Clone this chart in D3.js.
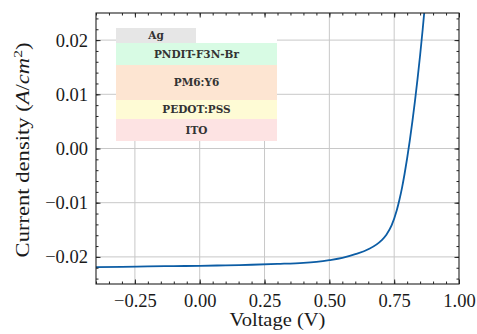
<!DOCTYPE html>
<html>
<head>
<meta charset="utf-8">
<script src="https://cdn.jsdelivr.net/npm/d3@7"></script>
<style>
  body { margin: 0; background: #fff; }
  text { font-family: "Liberation Serif", "DejaVu Serif", serif; fill: #1a1a1a; }
</style>
</head>
<body>
<div id="chart"></div>
<script>
// data
var voltage = [-0.4, -0.3, -0.2, -0.1, 0.0, 0.1, 0.2, 0.3, 0.4, 0.45, 0.5, 0.55, 0.6, 0.65, 0.7,
    0.72, 0.74, 0.76, 0.77, 0.78, 0.79, 0.8, 0.81, 0.82, 0.83, 0.84, 0.85, 0.86, 0.87, 0.88];
var current = [-0.0219, -0.02185, -0.02175, -0.0217, -0.02165, -0.02155, -0.02145, -0.0213, -0.0211, -0.0209,
    -0.0206, -0.0202, -0.0195, -0.0186, -0.0170, -0.0159, -0.0142, -0.0114, -0.0095, -0.0073, -0.0047,
    -0.0018, 0.0014, 0.0049, 0.0087, 0.0128, 0.0172, 0.0220, 0.0272, 0.033];

var xTicks = [-0.25, 0, 0.25, 0.5, 0.75, 1.0];
var yTicks = [-0.02, -0.01, 0, 0.01, 0.02];

// device stack in the inset
var layerNames = ["Ag", "PNDIT-F3N-Br", "PM6:Y6", "PEDOT:PSS", "ITO"];
var layerColors = ["#e6e6e6", "#d8fbe4", "#fde5d2", "#fefbd5", "#fde3e3"];

var svgWidth = 477;
var svgHeight = 334;
var margin = { top: 13, right: 18, bottom: 50, left: 96 };
var width = svgWidth - margin.left - margin.right;
var height = svgHeight - margin.top - margin.bottom;

var svg = d3.select("#chart")
    .append("svg")
    .attr("width", svgWidth)
    .attr("height", svgHeight);

svg.append("rect").attr("width", svgWidth).attr("height", svgHeight).attr("fill", "#fff");

var chartGroup = svg.append("g")
    .attr("transform", `translate(${margin.left}, ${margin.top})`);

var xScale = d3.scaleLinear().domain([-0.4, 1.0]).range([0, width]);
var yScale = d3.scaleLinear().domain([-0.025, 0.025]).range([height, 0]);

chartGroup.append("clipPath").attr("id", "clip")
    .append("rect").attr("width", width).attr("height", height);

// grid
chartGroup.append("g")
    .selectAll("line.gx")
    .data(xTicks.filter(d => d < 1))
    .enter().append("line")
    .attr("x1", d => xScale(d)).attr("x2", d => xScale(d))
    .attr("y1", 0).attr("y2", height)
    .attr("stroke", "#c8c8c8").attr("stroke-width", 1);

chartGroup.append("g")
    .selectAll("line.gy")
    .data(yTicks)
    .enter().append("line")
    .attr("x1", 0).attr("x2", width)
    .attr("y1", d => yScale(d)).attr("y2", d => yScale(d))
    .attr("stroke", "#c8c8c8").attr("stroke-width", 1);

// inset: layer stack (pixel layout inside the plot)
var insetX0 = 20, insetX1 = 181, agX1 = 100;
var layerEdges = [15, 30, 52, 87, 106, 128];

chartGroup.append("rect")
    .attr("x", insetX0).attr("y", 0)
    .attr("width", insetX1 - insetX0).attr("height", layerEdges[5])
    .attr("fill", "#fff");

var inset = chartGroup.append("g");
inset.selectAll("rect.layer")
    .data(layerNames)
    .enter().append("rect")
    .attr("x", insetX0)
    .attr("y", (d, i) => layerEdges[i])
    .attr("width", (d, i) => (i === 0 ? agX1 : insetX1) - insetX0)
    .attr("height", (d, i) => layerEdges[i + 1] - layerEdges[i])
    .attr("fill", (d, i) => layerColors[i]);

inset.selectAll("text.layer")
    .data(layerNames)
    .enter().append("text")
    .attr("x", (d, i) => ((i === 0 ? agX1 : insetX1) + insetX0) / 2)
    .attr("y", (d, i) => (layerEdges[i] + layerEdges[i + 1]) / 2)
    .attr("dy", "0.35em")
    .attr("text-anchor", "middle")
    .style("font-family", "DejaVu Serif")
    .style("font-weight", "bold")
    .style("font-size", "10.5px")
    .style("fill", "#333")
    .text(d => d);

// curve
var line = d3.line()
    .x((d, i) => xScale(voltage[i]))
    .y(d => yScale(d))
    .curve(d3.curveMonotoneX);

chartGroup.append("path")
    .datum(current)
    .attr("clip-path", "url(#clip)")
    .attr("d", line)
    .attr("fill", "none")
    .attr("stroke", "#0C5DA5")
    .attr("stroke-width", 1.8);

// axes, ticks pointing in on all four sides
var xMinor = d3.range(-0.4, 1.0001, 0.05).map(d => +d.toFixed(2));
var yMinor = d3.range(-0.024, 0.02401, 0.002).map(d => +d.toFixed(3));

function ticks(g, axisFn, scale, major, minor, showLabels, fmt) {
    var a = axisFn(scale).tickValues(minor).tickSize(-2.5).tickFormat("");
    g.append("g").call(a).call(s => s.select(".domain").remove());
    var b = axisFn(scale).tickValues(major).tickSize(-4.5).tickPadding(8)
        .tickFormat(showLabels ? fmt : "");
    var m = g.append("g").call(b);
    m.select(".domain").remove();
    return m;
}

var fmtX = d3.format(".2f");
var fmtY = d3.format(".2f");

var bottomG = chartGroup.append("g").attr("transform", `translate(0, ${height})`);
var bx = ticks(bottomG, d3.axisBottom, xScale, xTicks, xMinor, true, fmtX);
bx.selectAll("text").style("font-size", "18.5px").attr("y", 10).attr("dy", "0.71em");

var topG = chartGroup.append("g");
ticks(topG, d3.axisTop, xScale, xTicks, xMinor, false);

var leftG = chartGroup.append("g");
var ly = ticks(leftG, d3.axisLeft, yScale, yTicks, yMinor, true, fmtY);
ly.selectAll("text").style("font-size", "18.5px");

var rightG = chartGroup.append("g").attr("transform", `translate(${width}, 0)`);
ticks(rightG, d3.axisRight, yScale, yTicks, yMinor, false);

chartGroup.selectAll(".tick line").attr("stroke", "#222");

chartGroup.append("rect")
    .attr("width", width).attr("height", height)
    .attr("fill", "none").attr("stroke", "#222").attr("stroke-width", 1.1);

// axis labels (stretched a little to match the wider original type)
svg.append("text")
    .attr("transform", `translate(${margin.left + width / 2}, 326) scale(1.14, 1)`)
    .attr("text-anchor", "middle")
    .style("font-size", "18px")
    .text("Voltage (V)");

var yLabel = svg.append("text")
    .attr("transform", `translate(29, 150) rotate(-90) scale(1.19, 1)`)
    .attr("text-anchor", "middle")
    .style("font-size", "19px");
yLabel.append("tspan").text("Current density (");
yLabel.append("tspan").style("font-style", "italic").text("A");
yLabel.append("tspan").text("/");
yLabel.append("tspan").style("font-style", "italic").text("cm");
yLabel.append("tspan").attr("dy", -7).style("font-size", "13px").text("2");
yLabel.append("tspan").attr("dy", 7).text(")");
</script>
</body>
</html>
